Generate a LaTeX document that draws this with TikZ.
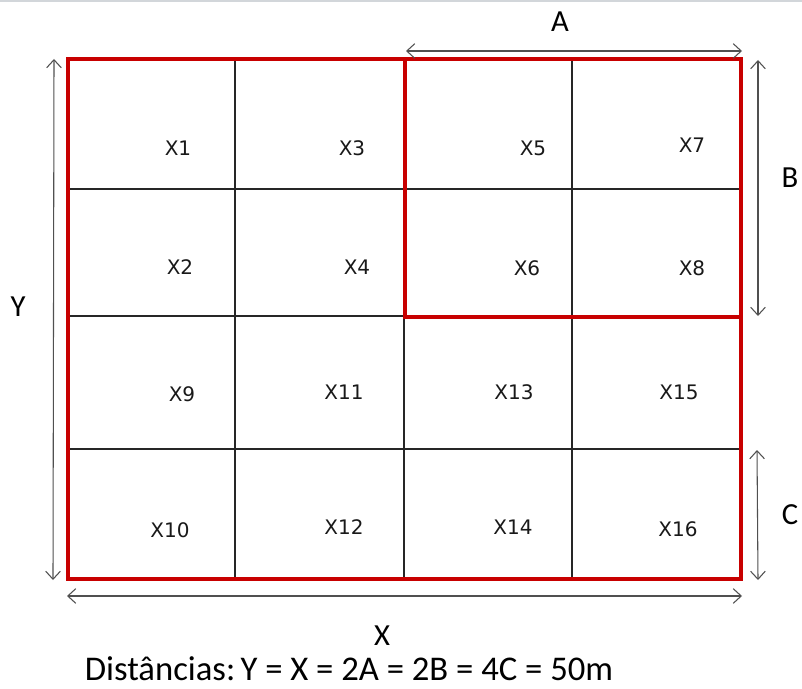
\documentclass[tikz,border=0pt]{standalone}
\usepackage{fontspec}
\setmainfont{Carlito}
\newfontfamily\cellfont{DejaVu Sans}
\usetikzlibrary{arrows.meta}
\definecolor{redline}{RGB}{200,0,0}
\definecolor{dimgray}{RGB}{80,80,80}
\definecolor{topgray}{RGB}{210,214,218}
\begin{document}
\begin{tikzpicture}[x=0.75pt,y=-0.75pt,
  gridline/.style={draw=black!85,line width=0.8pt},
  redbox/.style={draw=redline,line width=2.4pt,line join=miter},
  dimline/.style={draw=dimgray,line width=0.8pt,{Straight Barb[length=6pt,width=11pt]}-{Straight Barb[length=6pt,width=11pt]}},
  cell/.style={font=\cellfont\fontsize{15}{18}\selectfont,text=black!90,inner sep=0pt},
  dimlabel/.style={font=\fontsize{23}{27}\selectfont,inner sep=0pt},
  note/.style={font=\fontsize{26}{30}\selectfont,inner sep=0pt}]
\useasboundingbox (0,0) rectangle (802,688);
\fill[white] (0,0) rectangle (802,688);
\draw[topgray,line width=1.2pt] (0,1) -- (802,1);
% grid
\foreach \x in {235,404,572} \draw[gridline] (\x,58) -- (\x,580);
\foreach \y in {189,316,449} \draw[gridline] (67,\y) -- (742,\y);
% red boxes
\draw[redbox] (68,59) rectangle (741,579);
\draw[redbox] (405,59) rectangle (741,317);
% cell labels
\node[cell] (x1) at (178,148) {X1};
\node[cell] (x3) at (352,148) {X3};
\node[cell] (x5) at (533,148) {X5};
\node[cell] (x7) at (692,145) {X7};
\node[cell] (x2) at (180,267) {X2};
\node[cell] (x4) at (357,267) {X4};
\node[cell] (x6) at (527,268) {X6};
\node[cell] (x8) at (692,268) {X8};
\node[cell] (x9) at (182,394) {X9};
\node[cell] (x11) at (344,392) {X11};
\node[cell] (x13) at (514,392) {X13};
\node[cell] (x15) at (679,392) {X15};
\node[cell] (x10) at (170,530) {X10};
\node[cell] (x12) at (344,527) {X12};
\node[cell] (x14) at (513,527) {X14};
\node[cell] (x16) at (678,529) {X16};
% dimension arrows
\coordinate (a1) at (406,51); \coordinate (a2) at (742,51);
\coordinate (b1) at (758,60); \coordinate (b2) at (758,316);
\coordinate (c1) at (757,450); \coordinate (c2) at (758,580);
\coordinate (y1) at (54,59); \coordinate (y2) at (53,580);
\coordinate (xx1) at (67,596); \coordinate (xx2) at (742,596);
\draw[dimline] (a1) -- (a2);
\draw[dimline] (b1) -- (b2);
\draw[dimline] (c1) -- (c2);
\draw[dimline] (y1) -- (y2);
\draw[dimline] (xx1) -- (xx2);
\node[dimlabel] (la) at (560,22) {A};
\node[dimlabel] (lb) at (790,178) {B};
\node[dimlabel] (lc) at (790,515) {C};
\node[dimlabel] (ly) at (18,307) {Y};
\node[dimlabel] (lx) at (382,636) {X};
\node[note] (dist) at (349,669) {Distâncias:\hspace{-0.15em} Y = X = 2A = 2B = 4C = 50m};
\end{tikzpicture}
\end{document}
